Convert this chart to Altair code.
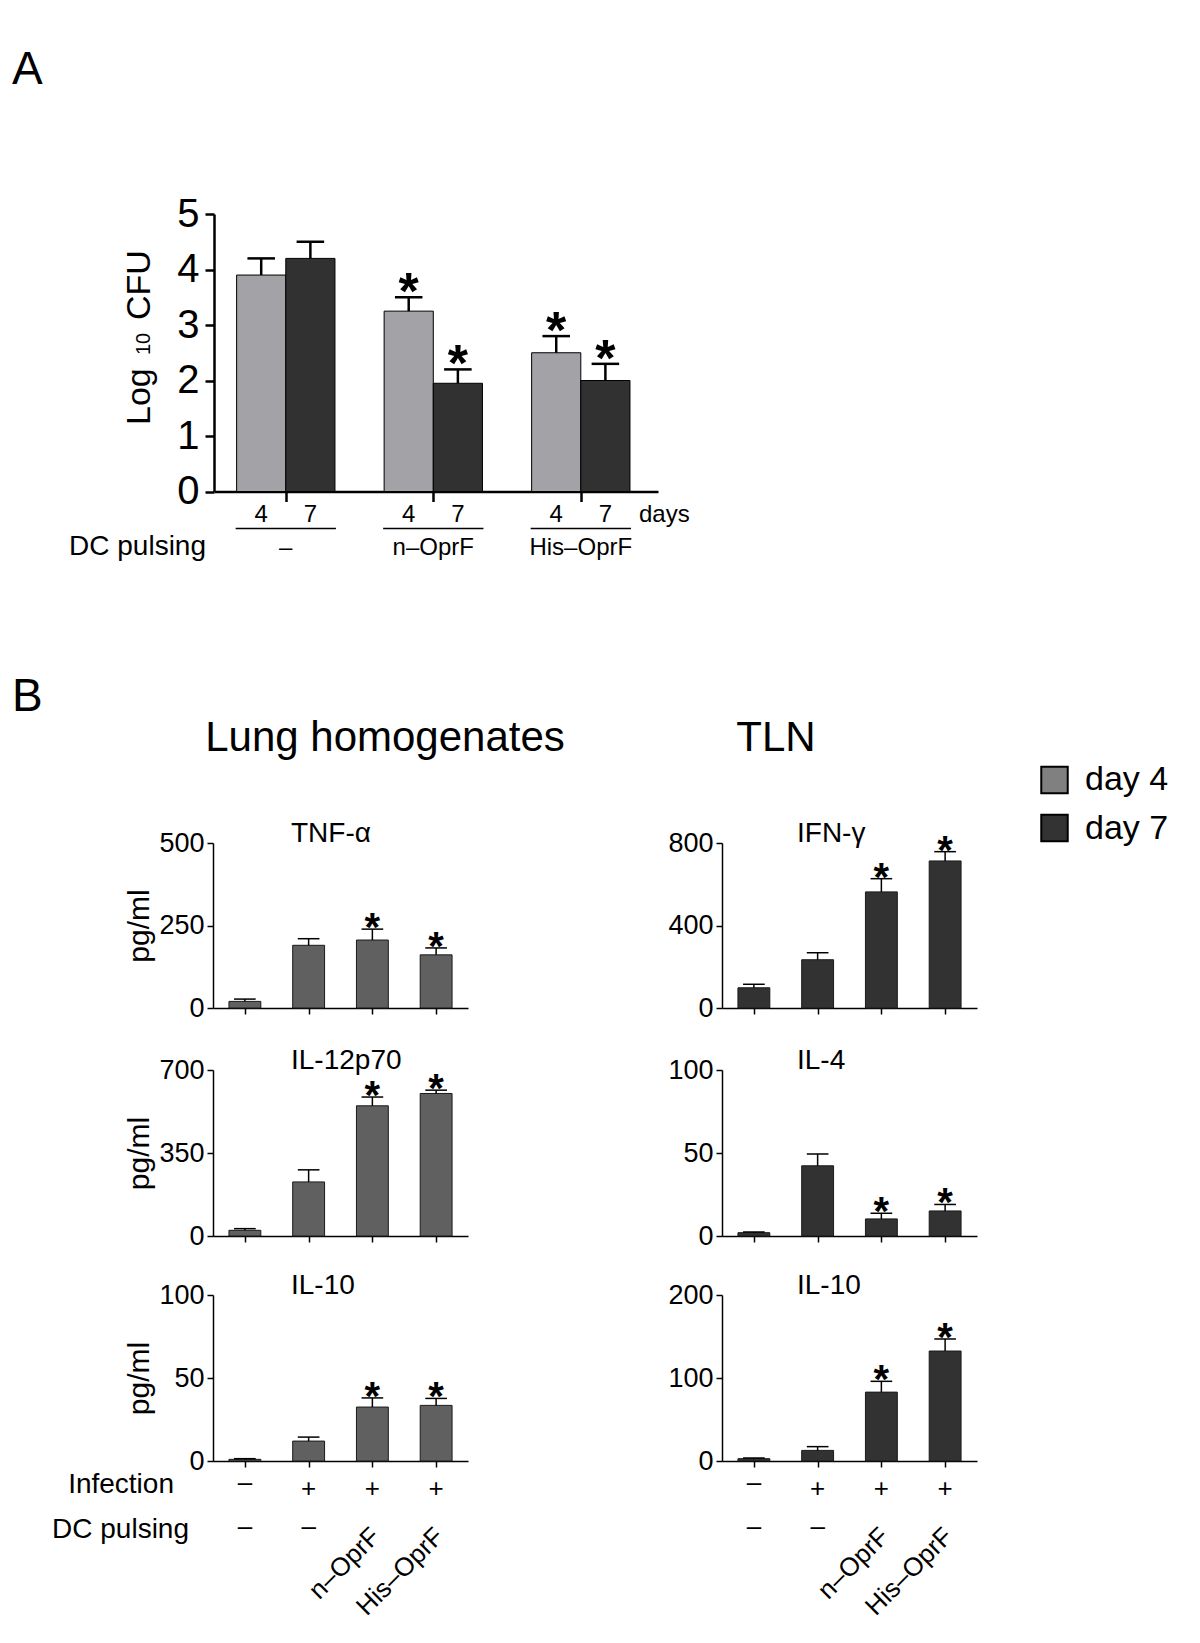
import altair as alt
import pandas as pd

FONT = "Liberation Sans"
W, H = 1184, 1627


def px(v):
    """reference page pixel -> chart pixel (the page has an 8px margin)"""
    return v - 8


# ---------------- data: panel A (Log10 CFU) ----------------
a_groups = ["–", "n–OprF", "His–OprF"]
a_days = ["4", "7"]
a_day4_mean = [3.9, 3.25, 2.5]
a_day4_err = [0.3, 0.25, 0.3]
a_day7_mean = [4.2, 1.95, 2.0]
a_day7_err = [0.3, 0.25, 0.3]
a_day4_sig = [False, True, True]
a_day7_sig = [False, True, True]

# ---------------- data: panel B (cytokines, pg/ml) ----------------
b_infection = ["–", "+", "+", "+"]
b_pulsing = ["–", "–", "n–OprF", "His–OprF"]

tnf_mean = [20, 190, 206, 161]
tnf_err = [7, 20, 33, 21]
tnf_sig = [False, False, True, True]

il12_mean = [24, 228, 549, 601]
il12_err = [7, 51, 37, 14]
il12_sig = [False, False, True, True]

il10_lung_mean = [1.0, 12, 32.5, 33.5]
il10_lung_err = [0.4, 2.4, 5.5, 4.2]
il10_lung_sig = [False, False, True, True]

ifn_mean = [98, 234, 563, 713]
ifn_err = [17, 34, 64, 45]
ifn_sig = [False, False, True, True]

il4_mean = [2.0, 42.3, 10.3, 15.1]
il4_err = [0.4, 7.1, 3.4, 3.9]
il4_sig = [False, False, True, True]

il10_tln_mean = [2.8, 12.8, 83, 132.5]
il10_tln_err = [0.8, 4.5, 13, 14.5]
il10_tln_sig = [False, False, True, True]

# ---------------- styles ----------------
C_A4 = "#a3a3a7"
C_A7 = "#313131"
C_LUNG = "#606060"
C_TLN = "#323232"
C_LEG4 = "#808080"
C_LEG7 = "#333333"

ONE = pd.DataFrame({"k": [0]})
layers = []


def label(text, x, y, size, align="left", weight="normal", angle=None, baseline="alphabetic"):
    kw = dict(text=text, fontSize=size, align=align, fontWeight=weight,
              baseline=baseline, font=FONT, color="black")
    if angle is not None:
        kw["angle"] = angle
    return alt.Chart(ONE).mark_text(**kw).encode(x=alt.value(x), y=alt.value(y))


# =============== Panel A ===============
rows = []
for g, grp in enumerate(a_groups):
    series = [(a_day4_mean, a_day4_err, a_day4_sig), (a_day7_mean, a_day7_err, a_day7_sig)]
    for d, (m, e, s) in enumerate(series):
        pos = 3 * g + d - 0.5
        rows.append({"group": grp, "day": a_days[d], "pos": pos,
                     "x0": pos - 0.5, "x1": pos + 0.5,
                     "c0": pos - 0.28, "c1": pos + 0.28,
                     "base": 0.0, "mean": m[g], "top": m[g] + e[g], "sig": s[g]})
dfA = pd.DataFrame(rows)
dfAg = pd.DataFrame({"group": a_groups, "c": [3 * g for g in range(len(a_groups))]})
dfAg["l0"] = dfAg["c"] - 1.02
dfAg["l1"] = dfAg["c"] + 1.02

xA = alt.Scale(domain=[-1.46, 7.57], range=[px(214), px(658)], nice=False, zero=False)
yA = alt.Scale(domain=[0, 5], range=[px(491.5), px(214)], nice=False)

layers.append(
    alt.Chart(dfA).mark_bar(stroke="black", strokeWidth=1).encode(
        x=alt.X("x0:Q", scale=xA, axis=alt.Axis(
            values=[0, 3, 6], labels=False, tickSize=10, tickWidth=2.5, domainWidth=2.5,
            orient="bottom", offset=px(491.5) - H, title=None)),
        x2="x1",
        y=alt.Y("mean:Q", scale=yA, stack=None, axis=alt.Axis(
            values=[0, 1, 2, 3, 4, 5], orient="left", offset=-px(214), tickSize=9,
            tickWidth=2.5, domainWidth=2.5, labelFontSize=40, labelPadding=6, title=None)),
        y2="base",
        color=alt.Color("day:N", scale=alt.Scale(domain=a_days, range=[C_A4, C_A7]), legend=None),
    )
)
layers.append(
    alt.Chart(dfA).mark_rule(color="black", strokeWidth=2.5).encode(
        x=alt.X("pos:Q", scale=xA, axis=None),
        y=alt.Y("mean:Q", scale=yA, axis=None), y2="top")
)
layers.append(
    alt.Chart(dfA).mark_rule(color="black", strokeWidth=2.5).encode(
        x=alt.X("c0:Q", scale=xA, axis=None), x2="c1",
        y=alt.Y("top:Q", scale=yA, axis=None))
)
layers.append(
    alt.Chart(dfA).transform_filter("datum.sig").mark_text(
        text="*", fontSize=52, fontWeight="bold", dy=-4, font=FONT, color="black").encode(
        x=alt.X("pos:Q", scale=xA, axis=None),
        y=alt.Y("top:Q", scale=yA, axis=None))
)
layers.append(
    alt.Chart(dfA).mark_text(fontSize=24, font=FONT, color="black", baseline="alphabetic").encode(
        x=alt.X("pos:Q", scale=xA, axis=None), y=alt.value(px(522)), text="day:N")
)
layers.append(
    alt.Chart(dfAg).mark_rule(color="black", strokeWidth=1.5).encode(
        x=alt.X("l0:Q", scale=xA, axis=None), x2="l1", y=alt.value(px(528.5)))
)
layers.append(
    alt.Chart(dfAg).mark_text(fontSize=24, font=FONT, color="black", baseline="alphabetic").encode(
        x=alt.X("c:Q", scale=xA, axis=None), y=alt.value(px(555)), text="group:N")
)
layers.append(label("days", px(639), px(522), 24))
layers.append(label("DC pulsing", px(206), px(555), 28, align="right"))
layers.append(label("Log", px(150), px(425), 34, angle=270))
layers.append(label("10", px(150), px(355), 20, angle=270))
layers.append(label("CFU", px(150), px(320), 34, angle=270))
layers.append(label("A", px(12), px(84), 46))

# =============== Panel B ===============
layers.append(label("B", px(12), px(711), 46))
layers.append(label("Lung homogenates", px(385), px(751), 42, align="center"))
layers.append(label("TLN", px(776), px(751), 42, align="center"))

# legend
layers.append(alt.Chart(ONE).mark_square(size=700, fill=C_LEG4, stroke="black", strokeWidth=2, opacity=1)
              .encode(x=alt.value(px(1054.5)), y=alt.value(px(780))))
layers.append(alt.Chart(ONE).mark_square(size=700, fill=C_LEG7, stroke="black", strokeWidth=2, opacity=1)
              .encode(x=alt.value(px(1054.5)), y=alt.value(px(828))))
layers.append(label("day 4", px(1085), px(790), 34))
layers.append(label("day 7", px(1085), px(839), 34))

ROWS = [(1008, 843), (1236, 1070), (1461, 1295)]


def panel(name, mean, err, sig, ymax, ticks, ax_x, title_x, row, color, with_ytitle, bottom):
    y0, ytop = ROWS[row]
    df = pd.DataFrame({"i": list(range(4)), "mean": mean, "err": err, "sig": sig,
                       "inf": b_infection, "dc": b_pulsing})
    df["base"] = 0.0
    df["top"] = df["mean"] + df["err"]
    df["x0"] = df["i"] - 0.25
    df["x1"] = df["i"] + 0.25
    df["c0"] = df["i"] - 0.17
    df["c1"] = df["i"] + 0.17
    xs = alt.Scale(domain=[-0.5, 3.5], range=[px(ax_x), px(ax_x + 255)], nice=False, zero=False)
    ys = alt.Scale(domain=[0, ymax], range=[px(y0), px(ytop)], nice=False)
    xax = alt.Axis(values=[0, 1, 2, 3], labels=False, tickSize=6, tickWidth=1.5, domainWidth=1.5,
                   orient="bottom", offset=px(y0) - H, title=None)
    ykw = dict(values=ticks, orient="left", offset=-px(ax_x), tickSize=6, tickWidth=1.5,
               domainWidth=1.5, labelFontSize=27, labelPadding=3)
    if with_ytitle:
        yax = alt.Axis(title="pg/ml", titleFontSize=30, titleFontWeight="normal", titlePadding=4, **ykw)
    else:
        yax = alt.Axis(title=None, **ykw)
    out = [
        alt.Chart(df).mark_bar(color=color, stroke="#1a1a1a", strokeWidth=1).encode(
            x=alt.X("x0:Q", scale=xs, axis=xax), x2="x1",
            y=alt.Y("mean:Q", scale=ys, stack=None, axis=yax), y2="base"),
        alt.Chart(df).mark_rule(color="black", strokeWidth=1.5).encode(
            x=alt.X("i:Q", scale=xs, axis=None),
            y=alt.Y("mean:Q", scale=ys, axis=None), y2="top"),
        alt.Chart(df).mark_rule(color="black", strokeWidth=1.5).encode(
            x=alt.X("c0:Q", scale=xs, axis=None), x2="c1",
            y=alt.Y("top:Q", scale=ys, axis=None)),
        alt.Chart(df).transform_filter("datum.sig").mark_text(
            text="*", fontSize=40, fontWeight="bold", dy=0, font=FONT, color="black").encode(
            x=alt.X("i:Q", scale=xs, axis=None),
            y=alt.Y("top:Q", scale=ys, axis=None)),
        label(name, px(title_x), px(ytop - 1), 28),
    ]
    if bottom:
        out += [
            alt.Chart(df).transform_filter(alt.datum.inf == "–").mark_text(
                fontSize=26, font=FONT, color="black", baseline="middle").encode(
                x=alt.X("i:Q", scale=xs, axis=None), y=alt.value(px(1483)), text="inf:N"),
            alt.Chart(df).transform_filter(alt.datum.inf != "–").mark_text(
                fontSize=26, font=FONT, color="black", baseline="middle").encode(
                x=alt.X("i:Q", scale=xs, axis=None), y=alt.value(px(1489)), text="inf:N"),
            alt.Chart(df).transform_filter(alt.datum.dc == "–").mark_text(
                fontSize=26, font=FONT, color="black", baseline="middle").encode(
                x=alt.X("i:Q", scale=xs, axis=None), y=alt.value(px(1527)), text="dc:N"),
            alt.Chart(df).transform_filter(alt.datum.dc != "–").mark_text(
                fontSize=26, font=FONT, color="black", baseline="middle", align="right",
                angle=315, dx=5).encode(
                x=alt.X("i:Q", scale=xs, axis=None), y=alt.value(px(1536)), text="dc:N"),
        ]
    return out


LX, LT = 213, 291
RX, RT = 722, 797
layers += panel("TNF-α", tnf_mean, tnf_err, tnf_sig, 500, [0, 250, 500], LX, LT, 0, C_LUNG, True, False)
layers += panel("IL-12p70", il12_mean, il12_err, il12_sig, 700, [0, 350, 700], LX, LT, 1, C_LUNG, True, False)
layers += panel("IL-10", il10_lung_mean, il10_lung_err, il10_lung_sig, 100, [0, 50, 100], LX, LT, 2, C_LUNG, True, True)
layers += panel("IFN-γ", ifn_mean, ifn_err, ifn_sig, 800, [0, 400, 800], RX, RT, 0, C_TLN, False, False)
layers += panel("IL-4", il4_mean, il4_err, il4_sig, 100, [0, 50, 100], RX, RT, 1, C_TLN, False, False)
layers += panel("IL-10", il10_tln_mean, il10_tln_err, il10_tln_sig, 200, [0, 100, 200], RX, RT, 2, C_TLN, False, True)

layers.append(label("Infection", px(174), px(1493), 28, align="right"))
layers.append(label("DC pulsing", px(189), px(1538), 28, align="right"))

chart = (
    alt.layer(*layers)
    .resolve_scale(x="independent", y="independent")
    .properties(width=W, height=H, autosize=alt.AutoSizeParams(type="none"), padding=0, background="white")
    .configure(font=FONT)
    .configure_view(stroke=None)
    .configure_axis(labelFont=FONT, titleFont=FONT, labelColor="black", titleColor="black",
                    domainColor="black", tickColor="black", grid=False,
                    labelFlush=False, labelOverlap=False)
)

chart.save("out.html", embed_options={"renderer": "svg", "actions": False})
